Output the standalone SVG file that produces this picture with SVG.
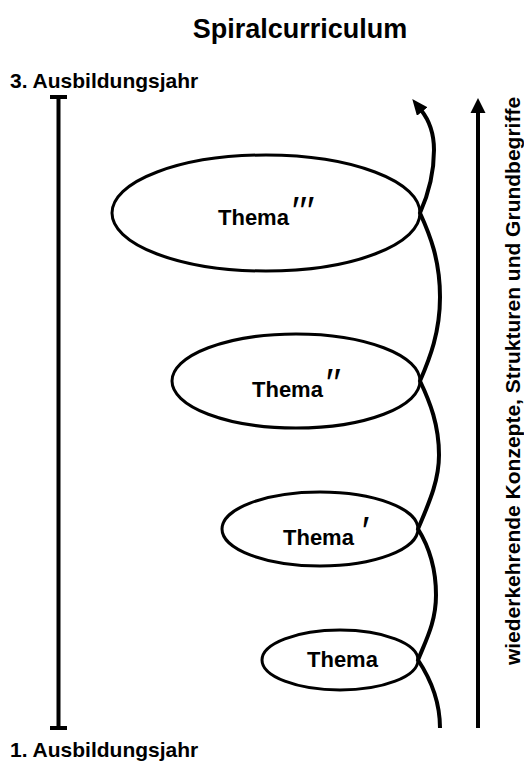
<svg xmlns="http://www.w3.org/2000/svg" width="524" height="764" viewBox="0 0 524 764">
<style>
text{font-family:"Liberation Sans",Arial,sans-serif;font-weight:bold;fill:#000}
.lbl{font-size:21px}
.th{font-size:22px}
.pr{font-size:40px;font-style:italic;font-weight:normal}
.ell{fill:none;stroke:#000;stroke-width:3}
.ln{fill:none;stroke:#000;stroke-width:4}
</style>
<defs>
<marker id="ah" markerWidth="4" markerHeight="3.4" refX="0.5" refY="1.7" orient="auto" markerUnits="strokeWidth">
<path d="M0,0 L4,1.7 L0,3.4 Z" fill="#000"/>
</marker>
</defs>
<rect width="524" height="764" fill="#fff"/>
<text x="300" y="38" text-anchor="middle" style="font-size:27px">Spiralcurriculum</text>
<text class="lbl" x="10" y="88">3. Ausbildungsjahr</text>
<text class="lbl" x="10" y="757">1. Ausbildungsjahr</text>
<g id="timeline">
<line class="ln" x1="58.5" y1="97" x2="58.5" y2="728"/>
<line class="ln" x1="50" y1="97" x2="67" y2="97"/>
<line class="ln" x1="50" y1="728" x2="67" y2="728"/>
</g>
<g id="node1"><ellipse class="ell" cx="266" cy="213" rx="154" ry="58"/>
<text class="th" x="218" y="225">Thema<tspan class="pr" dx="1">′′′</tspan></text></g>
<g id="node2"><ellipse class="ell" cx="296" cy="381" rx="124" ry="47"/>
<text class="th" x="252" y="397">Thema<tspan class="pr" dx="1">′′</tspan></text></g>
<g id="node3"><ellipse class="ell" cx="320" cy="529" rx="98" ry="37"/>
<text class="th" x="283" y="545">Thema <tspan class="pr">′</tspan></text></g>
<g id="node4"><ellipse class="ell" cx="340" cy="660" rx="78" ry="30"/>
<text class="th" x="307" y="667">Thema</text></g>
<g id="connectors">
<path class="ln" marker-end="url(#ah)" d="M440,728 C440,700 430,678 418,660 C426,640 436,622 436,595 C436,565 428,545 418,529 C428,505 439,482 439,455 C439,425 430,402 420,381 C430,358 440,332 440,297 C440,260 430,235 420,213 C428,195 434,175 434,150 C434,133 429,120 421,110"/>
<line class="ln" x1="478" y1="728" x2="478" y2="112"/>
<path d="M470.5,113 L478,98 L485.5,113 Z" fill="#000"/>
</g>
<text class="lbl" transform="translate(520,381) rotate(-90)" text-anchor="middle">wiederkehrende Konzepte, Strukturen und Grundbegriffe</text>
</svg>
